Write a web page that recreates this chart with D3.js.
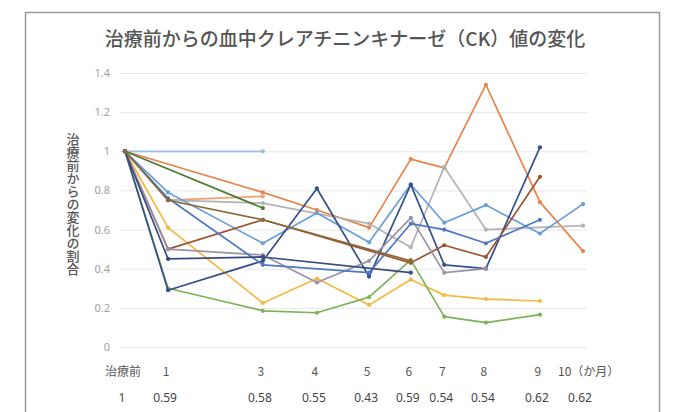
<!DOCTYPE html>
<html><head><meta charset="utf-8">
<script src="https://cdn.jsdelivr.net/npm/d3@7"></script>
<style>
html,body{margin:0;padding:0;background:#fff;}
svg{display:block;font-family:"Noto Sans CJK JP","Noto Sans",sans-serif;}
</style></head>
<body><svg id="c" width="676" height="412"></svg>
<script>
// ---- data ----
const categories = ["治療前","1","3","4","5","6","7","8","9","10（か月）"];
const visitMonths = [0, 0.94, 3.01, 4.19, 5.33, 6.24, 6.97, 7.88, 9.06, 10];
const summaryValues = ["1","0.59","0.58","0.55","0.43","0.59","0.54","0.54","0.62","0.62"];
const yTickValues = [0, 0.2, 0.4, 0.6, 0.8, 1, 1.2, 1.4];
const yTickLabels = ["0","0.2","0.4","0.6","0.8","1","1.2","1.4"];
const titleText = "治療前からの血中クレアチニンキナーゼ（CK）値の変化";
const yAxisTitle = "治療前からの変化の割合";

const case01 = [1, null, 1.00, null, null, null, null, null, null, null];
const case02 = [1, null, 0.79, 0.70, 0.61, 0.96, 0.915, 1.34, 0.74, 0.49];
const case03 = [1, 0.75, 0.77, null, null, null, null, null, null, null];
const case04 = [1, 0.75, 0.735, null, 0.63, 0.51, 0.92, 0.60, null, 0.62];
const case05 = [1, 0.61, 0.225, 0.35, 0.215, 0.345, 0.265, 0.245, 0.235, null];
const case06 = [1, 0.79, 0.53, 0.685, 0.535, 0.83, 0.635, 0.725, 0.58, 0.73];
const case07 = [1, 0.30, 0.185, 0.175, 0.255, 0.445, 0.155, 0.125, 0.165, null];
const case08 = [1, 0.29, 0.44, 0.81, 0.36, 0.83, 0.42, 0.40, 1.02, null];
const case09 = [1, 0.50, 0.65, null, null, 0.43, 0.52, 0.46, 0.87, null];
const case10 = [1, 0.50, 0.47, 0.33, 0.44, 0.66, 0.38, 0.40, null, null];
const case11 = [1, 0.76, 0.42, null, 0.38, 0.63, 0.60, 0.53, 0.65, null];
const case12 = [1, 0.45, 0.46, null, null, 0.38, null, null, null, null];
const case13 = [1, null, 0.71, null, null, null, null, null, null, null];
const case14 = [1, 0.75, 0.65, null, null, 0.44, null, null, null, null];

const seriesList = [case01, case02, case03, case04, case05, case06, case07,
                    case08, case09, case10, case11, case12, case13, case14];
const seriesColors = ["#9bbfe6","#e8844a","#f0a272","#b3b3b3","#f5b841","#6a9fd8","#7db358",
                      "#34508e","#a0522d","#9a94a8","#4f78c4","#3a4a80","#4f7a35","#8a6a3a"];

// ---- drawing ----
const svg = d3.select("#c");
const x = d3.scaleLinear().domain([0, 10]).range([125, 583]);
const y = d3.scaleLinear().domain([0, 1.4]).range([347, 73]);

// frame
svg.append("rect").attr("x", 25.5).attr("y", 12.5).attr("width", 634).attr("height", 420)
  .attr("fill", "none").attr("stroke", "#9a9a9a").attr("stroke-width", 1.5);

// title
svg.append("text").attr("x", 345).attr("y", 37).attr("text-anchor", "middle")
  .attr("dominant-baseline", "central").attr("font-size", 19).attr("fill", "#555")
  .attr("font-weight", 500).text(titleText);

// gridlines + y labels via axis
const yAxis = d3.axisLeft(y).tickValues(yTickValues)
  .tickFormat((d, i) => yTickLabels[i]).tickSize(-(587 - 120)).tickPadding(10);
const gy = svg.append("g").attr("transform", "translate(120,0)").call(yAxis);
gy.select(".domain").remove();
gy.selectAll(".tick line").attr("stroke", "#e6e6e6").attr("stroke-width", 1);
gy.selectAll(".tick text").attr("fill", "#a0a0a0").attr("font-size", 11)
  .attr("font-family", "Noto Sans, sans-serif");

// y axis title (vertical writing)
svg.append("text").attr("x", 73).attr("y", 133)
  .attr("font-size", 13).attr("fill", "#555").attr("font-weight", 500)
  .style("writing-mode", "vertical-rl").style("text-orientation", "upright")
  .text(yAxisTitle);

// lines
const line = d3.line().x(d => x(d.m)).y(d => y(d.v));
seriesList.forEach((s, k) => {
  const pts = s.map((v, i) => ({m: visitMonths[i], v})).filter(d => d.v !== null);
  svg.append("path").datum(pts).attr("d", line).attr("fill", "none")
    .attr("stroke", seriesColors[k]).attr("stroke-width", 1.7).attr("stroke-linejoin", "round");
  svg.append("g").selectAll("circle").data(pts).join("circle")
    .attr("cx", d => x(d.m)).attr("cy", d => y(d.v)).attr("r", 2.1)
    .attr("fill", seriesColors[k]);
});

// x category labels
const last = categories.length - 1;
svg.append("g").selectAll("text").data(categories).join("text")
  .attr("x", (d, i) => x(visitMonths[i]) + (i === last ? -25 : -2))
  .attr("y", 370).attr("text-anchor", (d, i) => i === last ? "start" : "middle")
  .attr("dominant-baseline", "central")
  .attr("font-size", 12).attr("fill", "#555").text(d => d);

// summary row
svg.append("g").selectAll("text").data(summaryValues).join("text")
  .attr("x", (d, i) => x(visitMonths[i]) - 3)
  .attr("y", 397).attr("text-anchor", "middle").attr("dominant-baseline", "central")
  .attr("font-size", 12).attr("fill", "#444").attr("font-family", "Noto Sans, sans-serif")
  .text(d => d);
</script></body></html>
